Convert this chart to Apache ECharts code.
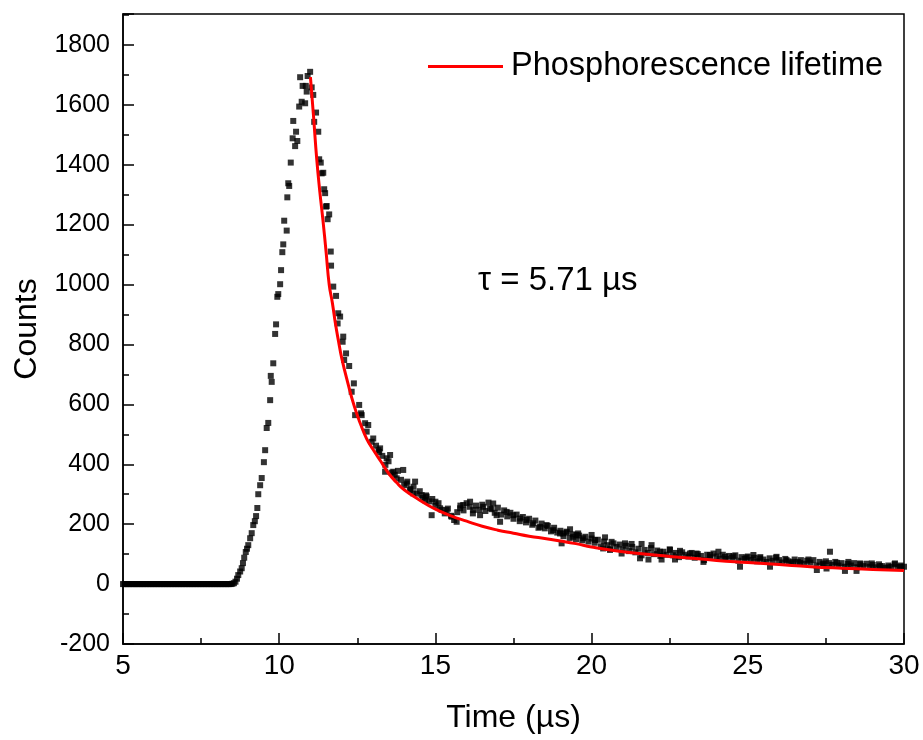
<!DOCTYPE html>
<html>
<head>
<meta charset="utf-8">
<script src="https://cdn.jsdelivr.net/npm/echarts@6/dist/echarts.min.js"></script>
<style>html,body{margin:0;padding:0;background:#fff}#c{width:923px;height:740px}</style>
</head>
<body>
<div id="c"></div>
<script>
// Measured data (time in µs, counts)
const flatTime = [5.0,5.05,5.1,5.15,5.2,5.25,5.3,5.35,5.4,5.45,5.5,5.55,5.6,5.65,5.7,5.75,5.8,5.85,5.9,5.95,6.0,6.05,6.1,6.15,6.2,6.25,6.3,6.35,6.4,6.45,6.5,6.55,6.6,6.65,6.7,6.75,6.8,6.85,6.9,6.95,7.0,7.05,7.1,7.15,7.2,7.25,7.3,7.35,7.4,7.45,7.5,7.55,7.6,7.65,7.7,7.75,7.8,7.85,7.9,7.95,8.0,8.05,8.1,8.15,8.2,8.25,8.3,8.35,8.4,8.45,8.5,8.55,8.6,8.65];
const flatCounts = [0,0,0,0,0,0,0,0,0,0,0,0,0,0,0,0,0,0,0,0,0,0,0,0,0,0,0,0,0,0,0,0,0,0,0,0,0,0,0,0,0,0,0,0,0,0,0,0,0,0,0,0,0,0,0,0,0,0,0,0,0,0,0,0,0,0,0,0,0,0,1,3,8,18];

const riseTime = [8.69,8.75,8.80,8.84,8.88,8.93,8.97,9.01,9.07,9.12,9.17,9.22,9.26,9.30,9.33,9.39,9.44,9.51,9.55,9.60,9.65,9.71,9.73,9.76,9.81,9.87,9.90,9.94,9.97,10.03,10.06,10.10,10.13,10.16,10.24,10.26,10.29,10.32,10.37,10.43,10.45,10.51,10.54,10.58,10.64,10.67,10.72,10.75,10.83,10.85,10.88,10.91,10.99];
const riseCounts = [30,42,53,70,88,107,118,130,153,170,197,210,227,254,300,330,354,407,447,521,538,614,695,675,737,835,867,959,968,1001,1048,1108,1134,1213,1180,1291,1338,1329,1407,1488,1546,1462,1510,1479,1594,1692,1610,1663,1605,1663,1644,1696,1710];

const decayTime = [11.04,11.09,11.12,11.18,11.25,11.28,11.33,11.36,11.41,11.44,11.47,11.50,11.52,11.55,11.60,11.65,11.66,11.73,11.82,11.87,11.89,11.95,12.03,12.05,12.08,12.14,12.24,12.32,12.39,12.43,12.56,12.62,12.64,12.75,12.80,12.85,12.96,13.01,13.18,13.23,13.39,13.44,13.55,13.65,13.76,13.97,14.08,14.19,14.29,14.35,14.56,14.67,14.72,14.88,15.00,15.15,15.36,15.52,15.68,15.79,15.89,16.11,16.21,16.43,16.53,16.75,16.85,16.96,17.07,17.28,17.49,17.71,17.92,18.13,18.35,18.56,18.77,18.99,19.04,19.09,19.20,19.31,19.41,19.52,19.57,19.73,20.00];
const decayCounts = [1658,1633,1543,1574,1510,1418,1407,1371,1373,1318,1305,1260,1262,1218,1234,1110,1063,993,962,870,904,893,809,826,748,770,728,642,670,564,598,570,564,537,509,531,475,486,447,453,375,420,431,375,353,381,336,314,303,342,297,280,292,230,275,253,247,225,208,253,264,275,247,230,258,253,269,230,208,241,230,219,214,203,191,197,180,169,136,169,175,183,158,164,169,153,164];

const tailTime = [13.1,13.2,13.3,13.4,13.5,13.6,13.7,13.8,13.9,14.0,14.1,14.2,14.3,14.4,14.5,14.6,14.7,14.8,14.9,15.0,15.1,15.2,15.3,15.4,15.5,15.6,15.7,15.8,15.9,16.0,16.1,16.2,16.3,16.4,16.5,16.6,16.7,16.8,16.9,17.0,17.1,17.2,17.3,17.4,17.5,17.6,17.7,17.8,17.9,18.0,18.1,18.2,18.3,18.4,18.5,18.6,18.7,18.8,18.9,19.0,19.1,19.2,19.3,19.4,19.5,19.6,19.7,19.8,19.9,20.0,20.1,20.2,20.3,20.4,20.5,20.6,20.7,20.8,20.9,21.0,21.1,21.2,21.3,21.4,21.5,21.6,21.7,21.8,21.9,22.0,22.1,22.2,22.3,22.4,22.5,22.6,22.7,22.8,22.9,23.0,23.1,23.2,23.3,23.4,23.5,23.6,23.7,23.8,23.9,24.0,24.1,24.2,24.3,24.4,24.5,24.6,24.7,24.8,24.9,25.0,25.1,25.2,25.3,25.4,25.5,25.6,25.7,25.8,25.9,26.0,26.1,26.2,26.3,26.4,26.5,26.6,26.7,26.8,26.9,27.0,27.1,27.2,27.3,27.4,27.5,27.6,27.7,27.8,27.9,28.0,28.1,28.2,28.3,28.4,28.5,28.6,28.7,28.8,28.9,29.0,29.1,29.2,29.3,29.4,29.5,29.6,29.7,29.8,29.9,30.0];
const tailCounts = [462,441,428,398,410,372,365,378,348,330,342,318,325,302,310,288,296,276,284,262,270,248,236,252,228,214,240,262,246,270,258,236,262,248,265,244,272,250,238,255,232,246,226,238,218,232,210,224,206,218,198,212,188,202,186,194,176,188,172,178,160,172,154,166,150,162,146,158,142,152,138,148,126,142,130,118,136,124,132,116,128,110,124,106,118,96,114,104,120,100,112,94,108,98,116,96,104,90,106,98,92,104,88,100,94,80,98,90,102,92,86,98,84,94,88,96,78,90,84,92,80,88,76,90,82,74,86,78,88,80,72,84,76,70,82,74,80,68,78,72,80,62,74,66,76,70,64,74,62,70,58,68,62,70,56,66,60,68,58,64,56,66,60,54,62,58,66,56,62,58];

const extraTime = [20.11,20.37,20.43,20.59,20.64,20.96,21.07,21.28,21.55,21.60,21.82,21.92,22.19,22.24,22.51,22.67,22.83,23.15,23.36,23.58,23.79,24.06,24.27,24.54,24.75,24.96,25.18,25.39,25.71,25.92,26.24,26.45,26.67,26.94,27.21,27.42,27.52,27.63,27.85,28.11,28.22,28.48,28.59,28.97,29.23,29.50,29.71,29.87];
const extraCounts = [147,119,156,114,141,102,136,134,86,134,82,130,108,82,114,82,111,102,102,74,97,108,91,93,58,89,97,86,58,91,80,74,71,82,47,69,52,108,71,44,74,44,69,69,60,56,69,58];

// Fit curve
const fitTime = [11.0,11.1,11.2,11.3,11.4,11.5,11.6,11.7,11.8,11.9,12.0,12.2,12.4,12.6,12.8,13.0,13.25,13.5,13.75,14.0,14.5,15.0,15.5,16.0,16.5,17.0,17.5,18.0,18.5,19.0,19.5,20.0,21.0,22.0,23.0,24.0,25.0,26.0,27.0,28.0,29.0,30.0];
const fitCounts = [1692,1560,1420,1310,1215,1110,1000,940,870,810,755,670,595,535,485,450,410,370,340,315,280,250,228,210,193,180,170,160,152,144,135,124,108,97,88,79,72,65,58,53,49,45];

const xTicks = {min:5, max:30, interval:5};
const yTicks = {min:-200, max:1903, interval:200};

const zip = (a,b) => a.map((v,i)=>[v,b[i]]);
const scatterData = [].concat(
  zip(flatTime, flatCounts), zip(riseTime, riseCounts),
  zip(decayTime, decayCounts), zip(tailTime, tailCounts), zip(extraTime, extraCounts));

const chart = echarts.init(document.getElementById('c'), null, {renderer:'canvas'});
const font = '"Liberation Sans", Arial, sans-serif';
const narrow = '"Liberation Sans Narrow", "Arial Narrow", "Liberation Sans", Arial, sans-serif';
chart.setOption({
  backgroundColor:'#fff',
  animation:false,
  grid:{left:123, right:19, top:14, bottom:96, show:true, borderColor:'#000', borderWidth:1.5, backgroundColor:'transparent'},
  legend:{
    data:[{name:'Phosphorescence lifetime', icon:'rect'}],
    left:423, top:45, itemWidth:75, itemHeight:3, itemGap:10,
    textStyle:{fontFamily:font, fontSize:32.5, color:'#000', padding:[0,0,0,3]}
  },
  xAxis:{
    type:'value', min:xTicks.min, max:xTicks.max, interval:xTicks.interval,
    name:'Time (µs)', nameLocation:'middle', nameGap:58,
    nameTextStyle:{fontFamily:font, fontSize:32, color:'#000'},
    axisLine:{show:true, onZero:false, lineStyle:{color:'#000', width:1.5}},
    axisTick:{show:true, inside:true, length:11, lineStyle:{color:'#000', width:1.5}},
    minorTick:{show:true, splitNumber:2, length:6, lineStyle:{color:'#000', width:1.5}},
    axisLabel:{fontFamily:narrow, fontSize:28, color:'#000', margin:8},
    splitLine:{show:false}
  },
  yAxis:{
    type:'value', min:yTicks.min, max:yTicks.max, interval:yTicks.interval,
    name:'Counts', nameLocation:'middle', nameGap:80, nameRotate:90,
    nameTextStyle:{fontFamily:font, fontSize:32, color:'#000'},
    axisLine:{show:true, onZero:false, lineStyle:{color:'#000', width:1.5}},
    axisTick:{show:true, inside:true, length:11, lineStyle:{color:'#000', width:1.5}},
    minorTick:{show:true, splitNumber:2, length:6, lineStyle:{color:'#000', width:1.5}},
    axisLabel:{fontFamily:font, fontSize:25, color:'#000', margin:13, showMaxLabel:false,
      formatter:v=>(v % yTicks.interval === 0 ? String(v) : '')},
    splitLine:{show:false}
  },
  series:[
    {name:'data', type:'scatter', symbol:'rect', symbolSize:6,
     itemStyle:{color:'#000'}, data:scatterData, z:2},
    {name:'Phosphorescence lifetime', type:'line', smooth:true, showSymbol:false,
     lineStyle:{color:'#ff0000', width:3}, itemStyle:{color:'#ff0000'},
     data:zip(fitTime, fitCounts), z:3}
  ],
  graphic:[
    {type:'text', left:478, top:264, style:{text:'τ = 5.71 µs', font:'33px "Liberation Sans", Arial, sans-serif', fill:'#000'}}
  ]
});
</script>
</body>
</html>
